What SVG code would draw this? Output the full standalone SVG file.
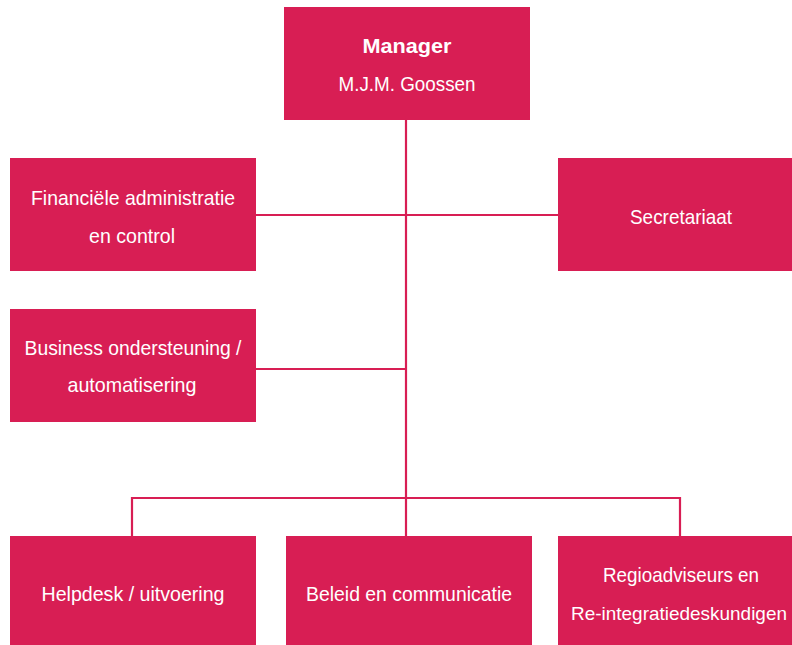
<svg xmlns="http://www.w3.org/2000/svg" width="792" height="645" viewBox="0 0 792 645">
<style>
.box{fill:#D81E54}
.t{fill:#FFFFFF;font-family:"Liberation Sans",Arial,sans-serif;font-size:21px;text-anchor:middle}
.b{font-weight:bold}
.s{font-size:19px}
.ln{stroke:#D81E54;stroke-width:2.2;fill:none}
</style>
<rect width="792" height="645" fill="#FFFFFF"/>
<g id="connectors">
<path class="ln" d="M406 120 V536"/>
<path class="ln" d="M256 215 H558"/>
<path class="ln" d="M256 369 H406"/>
<path class="ln" d="M132 536 V498 H680 V536"/>
</g>
<g id="manager">
<rect class="box" x="284" y="7" width="246" height="113"/>
<text class="t b" x="407" y="53" textLength="89" lengthAdjust="spacingAndGlyphs">Manager</text>
<text class="t" x="407" y="91" textLength="137" lengthAdjust="spacingAndGlyphs">M.J.M. Goossen</text>
</g>
<g id="financien">
<rect class="box" x="10" y="158" width="246" height="113"/>
<text class="t" x="133" y="205" textLength="204" lengthAdjust="spacingAndGlyphs">Financiële administratie</text>
<text class="t" x="132" y="243" textLength="86" lengthAdjust="spacingAndGlyphs">en control</text>
</g>
<g id="secretariaat">
<rect class="box" x="558" y="158" width="246" height="113"/>
<text class="t" x="681" y="224" textLength="102" lengthAdjust="spacingAndGlyphs">Secretariaat</text>
</g>
<g id="business">
<rect class="box" x="10" y="309" width="246" height="113"/>
<text class="t" x="133" y="355" textLength="217" lengthAdjust="spacingAndGlyphs">Business ondersteuning /</text>
<text class="t" x="132" y="392" textLength="129" lengthAdjust="spacingAndGlyphs">automatisering</text>
</g>
<g id="helpdesk">
<rect class="box" x="10" y="536" width="246" height="113"/>
<text class="t" x="133" y="601" textLength="183" lengthAdjust="spacingAndGlyphs">Helpdesk / uitvoering</text>
</g>
<g id="beleid">
<rect class="box" x="286" y="536" width="246" height="113"/>
<text class="t" x="409" y="601" textLength="206" lengthAdjust="spacingAndGlyphs">Beleid en communicatie</text>
</g>
<g id="regio">
<rect class="box" x="558" y="536" width="246" height="113"/>
<text class="t" x="681" y="582" textLength="156" lengthAdjust="spacingAndGlyphs">Regioadviseurs en</text>
<text class="t s" x="679" y="620" textLength="216" lengthAdjust="spacingAndGlyphs">Re-integratiedeskundigen</text>
</g>
</svg>
